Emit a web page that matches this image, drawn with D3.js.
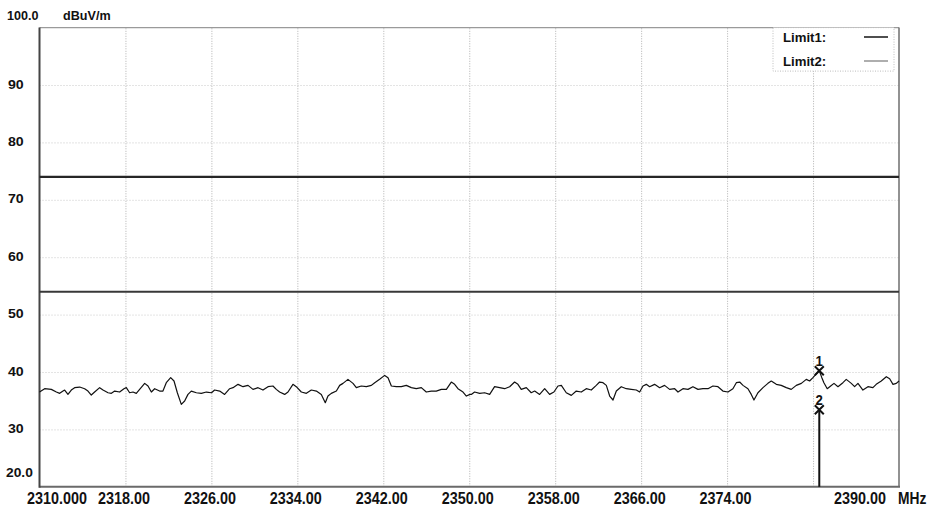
<!DOCTYPE html>
<html><head><meta charset="utf-8">
<script src="https://cdn.jsdelivr.net/npm/d3@7"></script>
<style>
html,body{margin:0;padding:0;background:#fff;}
svg{display:block;}
text{font-family:"Liberation Sans",Arial,sans-serif;font-weight:bold;fill:#111;}
</style></head>
<body>
<svg id="chart" width="928" height="506"></svg>
<script>
// ---- data ----
const freqMHz = [2310.00,2310.48,2311.10,2311.57,2311.88,2312.19,2312.34,2312.65,2312.96,2313.27,2313.74,2314.20,2314.51,2314.82,2315.13,2315.60,2315.91,2316.38,2316.69,2317.00,2317.46,2317.86,2318.08,2318.39,2318.70,2319.01,2319.32,2319.79,2320.10,2320.41,2320.72,2321.18,2321.49,2321.80,2322.21,2322.52,2322.83,2323.20,2323.51,2323.82,2324.13,2324.60,2325.06,2325.53,2326.01,2326.30,2326.77,2327.23,2327.70,2328.01,2328.48,2328.94,2329.41,2329.87,2330.34,2330.80,2331.27,2331.73,2332.04,2332.35,2332.82,2333.13,2333.59,2333.90,2334.37,2334.84,2335.30,2335.77,2336.23,2336.60,2336.85,2337.16,2337.63,2337.94,2338.25,2338.71,2339.18,2339.49,2339.95,2340.42,2340.89,2341.20,2341.66,2342.13,2342.44,2342.75,2343.21,2343.68,2344.14,2344.61,2345.07,2345.54,2346.00,2346.47,2346.93,2347.40,2347.87,2348.33,2348.64,2348.95,2349.42,2349.73,2350.07,
2350.19,2350.50,2350.97,2351.43,2351.90,2352.36,2352.83,2353.29,2353.76,2354.22,2354.53,2354.84,2355.31,2355.77,2356.09,2356.55,2357.02,2357.48,2357.88,2358.26,2358.57,2359.03,2359.50,2359.96,2360.43,2360.89,2361.36,2361.82,2362.13,2362.45,2362.76,2363.07,2363.38,2363.69,2364.15,2364.62,2365.08,2365.55,2365.86,2366.17,2366.48,2366.79,2367.25,2367.72,2368.18,2368.65,2369.12,2369.43,2369.89,2370.36,2370.82,2371.29,2371.75,2372.22,2372.68,2373.15,2373.61,2374.08,2374.54,2374.86,2375.17,2375.48,2375.94,2376.25,2376.50,2376.87,2377.34,2377.80,2378.11,2378.58,2379.04,2379.51,2379.97,2380.44,2380.91,2381.37,2381.68,2381.99,2382.58,2382.80,2383.01,2383.32,2383.64,2383.95,2384.32,2384.78,2385.09,2385.56,2385.87,2386.18,2386.64,2387.11,2387.57,2387.88,2388.35,2388.82,2389.13,2389.44,2389.75,2390.00];
const levelDb = [36.51,37.09,36.97,36.51,36.28,36.68,36.86,36.10,36.86,37.27,37.38,37.09,36.68,35.99,36.51,37.27,36.86,36.39,36.28,36.68,36.51,37.09,37.27,36.39,36.51,36.28,36.97,38.02,37.56,36.51,37.09,36.68,36.68,38.14,39.01,38.43,36.39,34.36,34.94,36.10,36.68,36.39,36.28,36.51,36.39,36.86,36.68,36.10,37.09,37.27,37.85,37.44,37.67,36.97,37.27,36.86,37.44,37.56,36.97,36.51,36.10,36.51,37.85,37.44,36.51,36.28,36.86,36.68,36.10,34.65,35.81,36.28,36.68,37.67,38.02,38.72,38.02,37.27,37.56,37.44,37.67,38.14,38.72,39.41,39.01,37.56,37.44,37.44,37.67,37.27,37.09,37.27,36.51,36.68,36.68,36.97,36.97,38.25,37.85,37.09,36.51,35.81,36.10,
36.10,36.51,36.28,36.39,36.10,37.44,37.27,37.09,37.44,38.25,37.85,36.97,37.27,36.39,36.68,36.10,37.09,36.10,36.51,37.56,37.67,36.39,35.93,36.68,36.51,37.09,36.86,37.67,38.25,38.14,37.67,35.81,35.12,36.68,37.44,37.09,36.97,36.86,36.51,37.56,37.85,37.44,37.85,37.27,37.67,36.97,37.09,36.51,37.09,36.97,37.44,36.97,37.09,37.09,37.56,37.44,36.68,36.51,37.09,38.14,38.25,37.67,37.09,36.10,35.12,36.39,37.27,38.02,38.43,37.85,37.67,37.27,36.97,37.67,38.02,38.72,38.43,39.01,40.23,39.10,38.14,37.09,37.56,38.02,37.44,38.14,38.72,38.02,37.44,38.02,36.86,37.44,37.27,37.85,38.43,39.18,38.83,37.85,38.02,38.43];
const yTicks = [30,40,50,60,70,80,90];
const yTickLabels = ["30","40","50","60","70","80","90"];
const xTicks = [2310,2318,2326,2334,2342,2350,2358,2366,2374,2382,2390];
const xTickLabels = ["2310.000","2318.00","2326.00","2334.00","2342.00","2350.00","2358.00","2366.00","2374.00","","2390.00"];
const limitNames = ["Limit1:","Limit2:"];
const limitValues = [74,54];
const markerNames = ["1","2"];
const markerFreq = [2382.58,2382.58];
const markerLevel = [40.23,33.43];

// ---- layout ----
const svg = d3.select("#chart");
const L = 39.5, R = 899, T = 27.6, B = 486.8;
const x = d3.scaleLinear().domain([2310,2390]).range([L,R]);
const y = d3.scaleLinear().domain([20,100]).range([B,T]);

// grid via axes
const gx = svg.append("g").attr("transform",`translate(0,${B})`)
  .call(d3.axisBottom(x).tickValues(xTicks.slice(1,-1)).tickSize(-(B-T)).tickFormat(""));
gx.select(".domain").remove();
gx.selectAll("line").attr("stroke","#b0b0b0").attr("stroke-dasharray","1,1.5");
const gy = svg.append("g").attr("transform",`translate(${L},0)`)
  .call(d3.axisLeft(y).tickValues(yTicks).tickSize(-(R-L)).tickFormat(""));
gy.select(".domain").remove();
gy.selectAll("line").attr("stroke","#c8c8c8").attr("stroke-dasharray","1,2");

// frame
svg.append("line").attr("x1",L).attr("x2",R).attr("y1",T).attr("y2",T).attr("stroke","#9a9a9a").attr("stroke-width",1.2);
svg.append("line").attr("x1",R).attr("x2",R).attr("y1",T).attr("y2",B).attr("stroke","#777").attr("stroke-width",1.6);
svg.append("line").attr("x1",L).attr("x2",R+1).attr("y1",B).attr("y2",B).attr("stroke","#6a6a6a").attr("stroke-width",2);
svg.append("line").attr("x1",L).attr("x2",L).attr("y1",T).attr("y2",B+1).attr("stroke","#444").attr("stroke-width",2);

// limit lines
const limStroke = ["#262626","#383838"], limW = [2.2,2];
limitValues.forEach((v,i)=>{
  svg.append("line").attr("x1",L).attr("x2",R).attr("y1",y(v)).attr("y2",y(v))
    .attr("stroke",limStroke[i]).attr("stroke-width",limW[i]);
});

// trace
const pts = freqMHz.map((f,i)=>[f,levelDb[i]]);
svg.append("path").datum(pts)
  .attr("d",d3.line().x(d=>x(d[0])).y(d=>y(d[1])))
  .attr("fill","none").attr("stroke","#111").attr("stroke-width",1.2).attr("stroke-linejoin","round");

// marker vertical line
svg.append("line").attr("x1",x(markerFreq[1])).attr("x2",x(markerFreq[1]))
  .attr("y1",y(markerLevel[1])).attr("y2",B).attr("stroke","#111").attr("stroke-width",2);
// markers
markerFreq.forEach((f,i)=>{
  const cx = x(f), cy = y(markerLevel[i]);
  const s = 4.5;
  svg.append("path").attr("d",`M${cx-s},${cy-s}L${cx+s},${cy+s}M${cx-s},${cy+s}L${cx+s},${cy-s}`)
    .attr("stroke","#111").attr("stroke-width",2).attr("fill","none");
  svg.append("text").attr("transform",`translate(${cx},${cy-5}) scale(1.1,1.2)`).attr("text-anchor","middle")
    .style("font-size","12px").text(markerNames[i]);
});

// y labels
yTicks.forEach((v,i)=>{
  svg.append("text").attr("transform",`translate(8,${y(v)+3.5}) scale(1.18,1.05)`)
    .style("font-size","12px").text(yTickLabels[i]);
});
svg.append("text").attr("transform",`translate(6,477) scale(1.15,1.1)`).style("font-size","12px").text("20.0");
svg.append("text").attr("transform",`translate(7,20) scale(1.05,1)`).style("font-size","12px").text("100.0");
svg.append("text").attr("transform",`translate(63,20) scale(1.05,1)`).style("font-size","12px").text("dBuV/m");

// x labels
xTicks.forEach((v,i)=>{
  const lab = xTickLabels[i];
  if(!lab) return;
  let tx = x(v)-1.5, anchor = "middle";
  if(i===0){ tx = 27; anchor = "start"; }
  if(i===xTicks.length-1){ tx = 886; anchor = "end"; }
  svg.append("text").attr("transform",`translate(${tx},504) scale(1.2,1.45)`)
    .attr("text-anchor",anchor).style("font-size","12px").text(lab);
});
svg.append("text").attr("transform",`translate(898,504) scale(1.15,1.45)`).style("font-size","12px").text("MHz");

// legend
const lg = svg.append("g");
lg.append("rect").attr("x",773).attr("y",T).attr("width",121).attr("height",43.5)
  .attr("fill","#fff").attr("stroke","#bdbdbd").attr("stroke-dasharray","1,1.5");
const legY = [37,61];
limitNames.forEach((n,i)=>{
  lg.append("text").attr("transform",`translate(783,${legY[i]+4.5}) scale(1.1,1.05)`)
    .style("font-size","12px").text(n);
  lg.append("line").attr("x1",864).attr("x2",888).attr("y1",legY[i]).attr("y2",legY[i])
    .attr("stroke", i===0?"#222":"#777").attr("stroke-width", i===0?1.6:1.2);
});
</script>
</body></html>
